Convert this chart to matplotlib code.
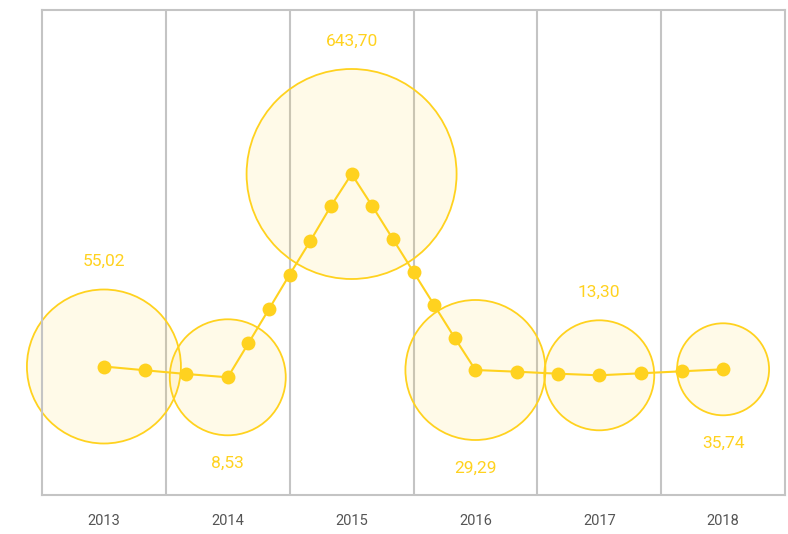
import matplotlib
matplotlib.use("Agg")
import matplotlib.pyplot as plt
import numpy as np

# ---- data ----
years = [2013, 2014, 2015, 2016, 2017, 2018]
year_labels = ["2013", "2014", "2015", "2016", "2017", "2018"]
value_labels = ["55,02", "8,53", "643,70", "29,29", "13,30", "35,74"]
# bubble radii (relative size units)
bubble_radius = [77, 58, 105, 70, 55, 46]
# line points (x in years, y in index units)
line_x = [2013, 2013 + 1/3, 2013 + 2/3,
          2014, 2014 + 1/6, 2014 + 2/6, 2014 + 3/6, 2014 + 4/6, 2014 + 5/6,
          2015, 2015 + 1/6, 2015 + 2/6, 2015 + 3/6, 2015 + 4/6, 2015 + 5/6,
          2016, 2016 + 1/3, 2016 + 2/3,
          2017, 2017 + 1/3, 2017 + 2/3,
          2018]
line_y = [128.5, 124.7, 121.0,
          117.7, 151.7, 186.0, 220.5, 254.0, 289.0,
          321.0, 289.0, 256.0, 223.0, 190.0, 157.0,
          125.0, 123.3, 121.3,
          119.7, 121.7, 123.7,
          125.7]
label_above = [True, False, True, False, True, False]

# ---- style ----
YELLOW = "#FFD21F"
GRID = "#C4C4C4"
FONT = ["Roboto", "DejaVu Sans"]

W, H, DPI = 788, 534, 100
fig = plt.figure(figsize=(W / DPI, H / DPI), dpi=DPI)
ax = fig.add_axes([42 / W, (H - 495) / H, 743 / W, 485 / H])
ax.set_xlim(2012.5, 2018.5)
ax.set_ylim(0, 485)

# column separators
for b in np.arange(2013.5, 2018.5, 1.0):
    ax.axvline(b, color=GRID, lw=1.5, zorder=0)
for s in ax.spines.values():
    s.set_color(GRID)
    s.set_linewidth(1.5)

# bubbles at year positions
year_y = [line_y[line_x.index(y)] for y in years]
px_to_pt = 72 / DPI
sizes = [(2 * r * px_to_pt) ** 2 for r in bubble_radius]
ax.scatter(years, year_y, s=sizes, facecolor=(1.0, 0.82, 0.12, 0.10),
           edgecolor=YELLOW, linewidth=1.3, zorder=2, clip_on=False)

# line with dots
ax.plot(line_x, line_y, color=YELLOW, lw=1.5, marker="o", markersize=10,
        markeredgewidth=0, markerfacecolor=YELLOW, zorder=3, clip_on=False)

# value labels above/below bubbles
for x, y, r, lab, up in zip(years, year_y, bubble_radius, value_labels, label_above):
    off = (r + 28) * (1 if up else -1)
    ax.annotate(lab, (x, y), xytext=(0, off * px_to_pt), textcoords="offset points",
                ha="center", va="center", color=YELLOW, fontsize=12.5,
                family=FONT, zorder=4)

ax.set_yticks([])
ax.set_xticks(years)
ax.set_xticklabels(year_labels, family=FONT, fontsize=10.5, color="#555555")
ax.tick_params(axis="x", length=0, pad=14)

fig.savefig("out.png", dpi=DPI)
